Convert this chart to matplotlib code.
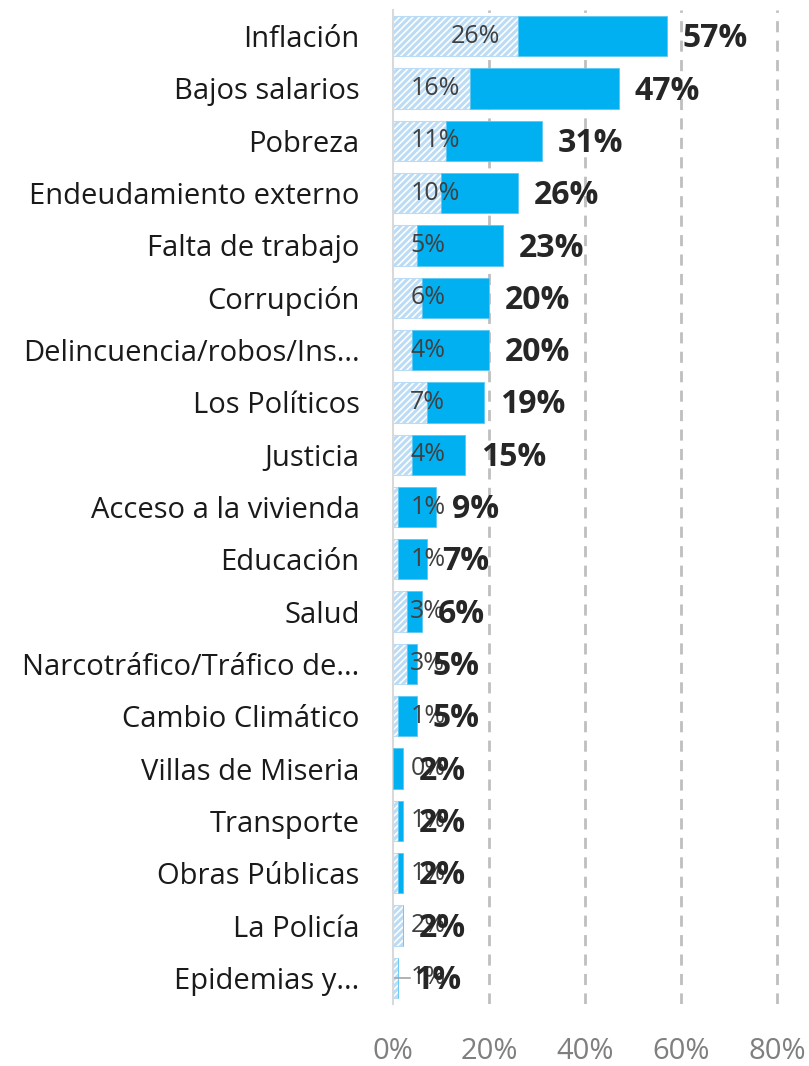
import matplotlib.pyplot as plt
import numpy as np

plt.rcParams['font.family'] = ['Open Sans', 'DejaVu Sans']
plt.rcParams['hatch.linewidth'] = 2.2

# Data
categories = ['Inflación', 'Bajos salarios', 'Pobreza', 'Endeudamiento externo',
              'Falta de trabajo', 'Corrupción', 'Delincuencia/robos/Ins...',
              'Los Políticos', 'Justicia', 'Acceso a la vivienda', 'Educación',
              'Salud', 'Narcotráfico/Tráfico de...', 'Cambio Climático',
              'Villas de Miseria', 'Transporte', 'Obras Públicas', 'La Policía',
              'Epidemias y...']
first_mention = [26, 16, 11, 10, 5, 6, 4, 7, 4, 1, 1, 3, 3, 1, 0, 1, 1, 2, 1]
total_mention = [57, 47, 31, 26, 23, 20, 20, 19, 15, 9, 7, 6, 5, 5, 2, 2, 2, 2, 1]
xticks = [0, 20, 40, 60, 80]

first = np.array(first_mention)
total = np.array(total_mention)
y = np.arange(len(categories))

fig = plt.figure(figsize=(8.09, 10.66), dpi=100)
W, H = 809, 1066
ax = fig.add_axes([393 / W, (H - 1004) / H, (W - 393) / W, 994 / H])

hatch_col = '#bcdcf6'
solid_col = '#00b0f0'

ax.barh(y, first, height=0.77, color='white', edgecolor=hatch_col,
        hatch='/////', linewidth=0.8, zorder=2)
ax.barh(y, total - first, left=first, height=0.77, color=solid_col,
        edgecolor='#5cc8f2', linewidth=0.6, zorder=3)

for i in range(len(categories)):
    xl = max(3.6, first[i] - 14)
    ax.text(xl, i, f'{first[i]}%', ha='left', va='center', fontsize=18,
            color='#404040', zorder=4)
    ax.text(total[i] + 3.3, i + 0.05, f'{total[i]}%', ha='left', va='center',
            fontsize=23, fontweight='bold', color='#262626', zorder=5)

# leader line for the last, tiny bar
ax.plot([0.4, 3.6], [y[-1], y[-1]], color='#a6a6a6', lw=1.2, zorder=4)

ax.set_xlim(0, (W - 393) / 4.8)
ax.set_ylim(len(categories) - 0.5, -0.5)
ax.set_yticks(y)
ax.set_yticklabels(categories, fontsize=21, color='#1a1a1a')
ax.set_xticks(xticks)
ax.set_xticklabels([f'{t}%' for t in xticks], fontsize=21, color='#7f7f7f')
ax.tick_params(axis='y', length=0, pad=24)
ax.tick_params(axis='x', length=0, pad=24)

for t in xticks[1:]:
    ax.axvline(t, color='#bfbfbf', lw=2, ls=(0, (4, 3)), zorder=1)

for s in ['top', 'right', 'bottom']:
    ax.spines[s].set_visible(False)
ax.spines['left'].set_color('#d9d9d9')
ax.spines['left'].set_linewidth(1.5)

fig.savefig('out.png', dpi=100)
